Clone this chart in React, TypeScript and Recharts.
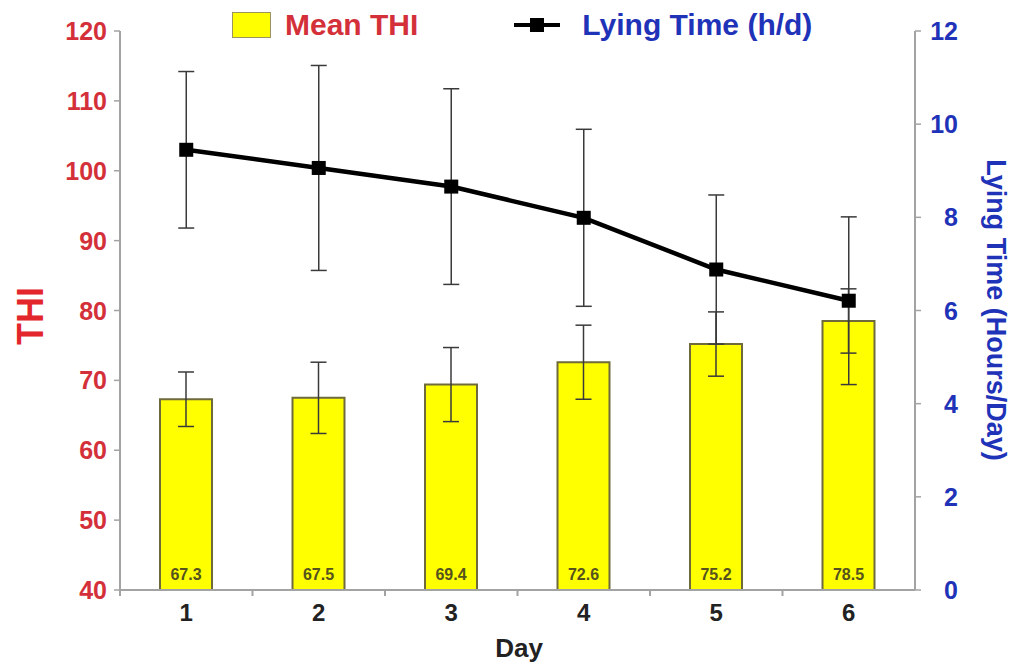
import React from 'react';
import {
  ComposedChart, Bar, Line, XAxis, YAxis, ErrorBar, LabelList,
} from 'recharts';

const days = ['1', '2', '3', '4', '5', '6'];
const meanTHI = [67.3, 67.5, 69.4, 72.6, 75.2, 78.5];
const thiSD = [3.9, 5.1, 5.3, 5.3, 4.6, 4.6];
const lyingTime = [9.45, 9.06, 8.66, 7.99, 6.88, 6.21];
const lyingSD = [1.68, 2.2, 2.1, 1.9, 1.6, 1.8];
const thiTicks = [40, 50, 60, 70, 80, 90, 100, 110, 120];
const lyingTicks = [0, 2, 4, 6, 8, 10, 12];

const data = days.map((d, i) => ({
  day: d,
  thi: meanTHI[i],
  thiSD: thiSD[i],
  lying: lyingTime[i],
  lyingSD: lyingSD[i],
}));

const W = 1011;
const H = 665;
const LEFT_W = 120;
const RIGHT_W = 96;
const TOP = 31;
const XAXIS_H = 75;
const FONT = '"Liberation Sans", Arial, sans-serif';
const RED = '#d4303a';
const BLUE = '#1f33b8';
const AXIS = '#a3a3a3';
const BAND = (W - LEFT_W - RIGHT_W) / days.length;

const LeftTick = (props: any) => {
  const { x, y, payload } = props;
  return (
    <text x={x} y={y} dy={9} textAnchor="end" fontSize={25} fontWeight="bold" fill={RED} fontFamily={FONT}>
      {payload.value}
    </text>
  );
};

const RightTick = (props: any) => {
  const { x, y, payload } = props;
  return (
    <text x={x + 27} y={y} dy={9} textAnchor="end" fontSize={25} fontWeight="bold" fill={BLUE} fontFamily={FONT}>
      {payload.value}
    </text>
  );
};

const XTick = (props: any) => {
  const { x, y, payload } = props;
  return (
    <g>
      <line x1={x - BAND / 2} x2={x - BAND / 2} y1={y - 8} y2={y - 2} stroke={AXIS} strokeWidth={2} />
      <text x={x} y={y} dy={23} textAnchor="middle" fontSize={24} fontWeight="bold" fill="#222" fontFamily={FONT}>
        {payload.value}
      </text>
    </g>
  );
};

const SquareDot = (props: any) => {
  const { cx, cy } = props;
  if (cx == null || cy == null) return null;
  return <rect x={cx - 7} y={cy - 7} width={14} height={14} fill="#000" />;
};

const BarValue = (props: any) => {
  const { x, y, width, height, value } = props;
  return (
    <text x={x + width / 2} y={y + height - 10} textAnchor="middle" fontSize={16} fontWeight="bold" fill="#55521e" fontFamily={FONT}>
      {Number(value).toFixed(1)}
    </text>
  );
};

export default function App() {
  return (
    <div style={{ position: 'absolute', left: 0, top: 0, width: W, height: H, background: '#fff', fontFamily: FONT }}>
      <ComposedChart
        width={W}
        height={H}
        data={data}
        margin={{ top: TOP, right: 0, bottom: 0, left: 0 }}
      >
        <XAxis
          dataKey="day"
          height={XAXIS_H}
          axisLine={{ stroke: AXIS, strokeWidth: 2 }}
          tickLine={false}
          tick={<XTick />}
          interval={0}
        />
        <YAxis
          yAxisId="left"
          orientation="left"
          width={LEFT_W}
          domain={[40, 120]}
          ticks={thiTicks}
          allowDataOverflow
          axisLine={{ stroke: AXIS, strokeWidth: 2 }}
          tickLine={{ stroke: AXIS, strokeWidth: 1.5 }}
          tickSize={6}
          tickMargin={7}
          tick={<LeftTick />}
        />
        <YAxis
          yAxisId="right"
          orientation="right"
          width={RIGHT_W}
          domain={[0, 12]}
          ticks={lyingTicks}
          allowDataOverflow
          axisLine={{ stroke: AXIS, strokeWidth: 2 }}
          tickLine={{ stroke: AXIS, strokeWidth: 1.5 }}
          tickSize={6}
          tickMargin={10}
          tick={<RightTick />}
        />
        <Bar
          yAxisId="left"
          dataKey="thi"
          barSize={52}
          fill="#ffff00"
          stroke="#6e6a3c"
          strokeWidth={2}
          isAnimationActive={false}
        >
          <ErrorBar dataKey="thiSD" width={8} stroke="#3a3a3a" strokeWidth={1.5} direction="y" />
          <LabelList dataKey="thi" content={<BarValue />} />
        </Bar>
        <Line
          yAxisId="right"
          dataKey="lying"
          type="linear"
          stroke="#000"
          strokeWidth={4.5}
          dot={<SquareDot />}
          activeDot={false}
          isAnimationActive={false}
        >
          <ErrorBar dataKey="lyingSD" width={8} stroke="#3a3a3a" strokeWidth={1.5} direction="y" />
        </Line>
        <text x={30} y={316} transform="rotate(-90 30 316)" textAnchor="middle" dominantBaseline="central" fontSize={36} fontWeight="bold" fill="#e2262b" fontFamily={FONT}>
          THI
        </text>
        <text x={996} y={310} transform="rotate(90 996 310)" textAnchor="middle" dominantBaseline="central" fontSize={27} fontWeight="bold" fill={BLUE} fontFamily={FONT}>
          Lying Time (Hours/Day)
        </text>
        <text x={519} y={657} textAnchor="middle" fontSize={26} fontWeight="bold" fill="#222" fontFamily={FONT}>
          Day
        </text>
      </ComposedChart>
      <div style={{ position: 'absolute', left: 232, top: 8, height: 34, display: 'flex', alignItems: 'center', fontFamily: FONT, fontWeight: 'bold', fontSize: 30 }}>
        <div style={{ width: 39, height: 26, background: '#ffff00', border: '1px solid #9a9560', boxSizing: 'border-box' }} />
        <span style={{ color: RED, marginLeft: 14 }}>Mean THI</span>
        <div style={{ position: 'relative', width: 46, height: 14, marginLeft: 96 }}>
          <div style={{ position: 'absolute', left: 0, top: 5, width: 46, height: 4, background: '#000' }} />
          <div style={{ position: 'absolute', left: 16, top: 0, width: 14, height: 14, background: '#000' }} />
        </div>
        <span style={{ color: BLUE, marginLeft: 22 }}>Lying Time (h/d)</span>
      </div>
    </div>
  );
}
